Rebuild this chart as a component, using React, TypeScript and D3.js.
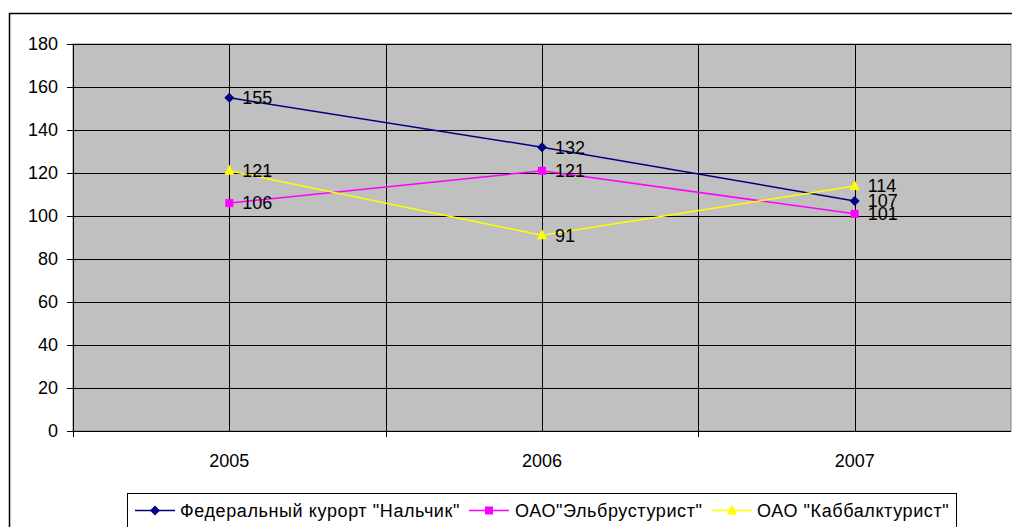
import React from 'react';
import * as d3 from 'd3';

// Chart data
const years = ['2005', '2006', '2007'];
const nalchik = [155, 132, 107];
const elbrus = [106, 121, 101];
const kabbalk = [121, 91, 114];
const yTicks = [0, 20, 40, 60, 80, 100, 120, 140, 160, 180];
const seriesNames = ['Федеральный курорт "Нальчик"', 'ОАО"Эльбрустурист"', 'ОАО "Каббалктурист"'];

const W = 1012;
const H = 527;
const plot = { left: 73, top: 44, right: 1011, bottom: 431 };
const FONT = 'Liberation Sans, Arial, sans-serif';

const series = [
  { name: seriesNames[0], values: nalchik, color: '#000080', marker: 'diamond' },
  { name: seriesNames[1], values: elbrus, color: '#FF00FF', marker: 'square' },
  { name: seriesNames[2], values: kabbalk, color: '#FFFF00', marker: 'triangle' },
];

const Marker: React.FC<{ kind: string; x: number; y: number; color: string }> = ({ kind, x, y, color }) => {
  if (kind === 'diamond') {
    return <path d={`M${x},${y - 5} L${x + 5},${y} L${x},${y + 5} L${x - 5},${y} Z`} fill={color} />;
  }
  if (kind === 'square') {
    return <rect x={x - 4} y={y - 4} width={8} height={8} fill={color} />;
  }
  return <path d={`M${x},${y - 6} L${x + 5},${y + 4} L${x - 5},${y + 4} Z`} fill={color} />;
};

export default function App() {
  const x = d3.scaleBand<string>().domain(years).range([plot.left, plot.right]);
  const cx = (d: string) => (x(d) ?? 0) + x.bandwidth() / 2;
  const y = d3.scaleLinear().domain([0, 180]).range([plot.bottom, plot.top]);

  const line = d3.line<number>()
    .x((_, i) => cx(years[i]))
    .y(v => y(v));

  // legend layout
  const legendItems = [
    { lineX: 135, textX: 180 },
    { lineX: 469, textX: 515 },
    { lineX: 712, textX: 757 },
  ];

  return (
    <div style={{ position: 'absolute', left: 0, top: 0 }}>
      <svg width={W} height={H} style={{ display: 'block' }} fontFamily={FONT}>
        <rect x={0} y={0} width={W} height={H} fill="#fff" />
        {/* outer chart frame */}
        <rect x={9.5} y={13.5} width={1010} height={530} fill="none" stroke="#000" strokeWidth={1.5} />

        {/* plot area */}
        <rect x={plot.left} y={plot.top} width={plot.right - plot.left} height={plot.bottom - plot.top} fill="#C0C0C0" stroke="#808080" strokeWidth={1} />

        {/* horizontal gridlines */}
        {yTicks.filter(t => t > 0).map(t => (
          <line key={t} x1={plot.left} x2={plot.right} y1={Math.round(y(t)) + 0.5} y2={Math.round(y(t)) + 0.5} stroke="#000" strokeWidth={1} />
        ))}

        {/* vertical gridlines at category centers and boundaries */}
        {years.map(yr => (
          <line key={'c' + yr} x1={Math.round(cx(yr)) + 0.5} x2={Math.round(cx(yr)) + 0.5} y1={plot.top} y2={plot.bottom} stroke="#000" strokeWidth={1} />
        ))}
        {years.slice(1).map(yr => (
          <line key={'b' + yr} x1={Math.round(x(yr) ?? 0) + 0.5} x2={Math.round(x(yr) ?? 0) + 0.5} y1={plot.top} y2={plot.bottom} stroke="#000" strokeWidth={1} />
        ))}

        {/* axes */}
        <line x1={plot.left + 0.5} x2={plot.left + 0.5} y1={plot.top} y2={plot.bottom} stroke="#000" />
        <line x1={plot.left} x2={plot.right} y1={plot.bottom + 0.5} y2={plot.bottom + 0.5} stroke="#000" />
        {yTicks.map(t => (
          <g key={'yt' + t}>
            <line x1={plot.left - 6} x2={plot.left} y1={Math.round(y(t)) + 0.5} y2={Math.round(y(t)) + 0.5} stroke="#000" />
            <text x={plot.left - 15} y={y(t)} dy="0.35em" textAnchor="end" fontSize={18} fill="#000">{t}</text>
          </g>
        ))}
        {[plot.left, ...years.slice(1).map(yr => x(yr) ?? 0)].map((bx, i) => (
          <line key={'xt' + i} x1={Math.round(bx) + 0.5} x2={Math.round(bx) + 0.5} y1={plot.bottom} y2={plot.bottom + 6} stroke="#000" />
        ))}
        {years.map(yr => (
          <text key={'xl' + yr} x={cx(yr)} y={467} textAnchor="middle" fontSize={18} fill="#000">{yr}</text>
        ))}

        {/* series */}
        {series.map(s => (
          <g key={s.name}>
            <path d={line(s.values) ?? ''} fill="none" stroke={s.color} strokeWidth={1.5} />
            {s.values.map((v, i) => (
              <Marker key={i} kind={s.marker} x={cx(years[i])} y={y(v)} color={s.color} />
            ))}
            {s.values.map((v, i) => (
              <text key={'l' + i} x={cx(years[i]) + 13} y={y(v)} dy="0.35em" fontSize={18} fill="#000">{v}</text>
            ))}
          </g>
        ))}

        {/* legend */}
        <rect x={127.5} y={493.5} width={829} height={40} fill="#fff" stroke="#000" strokeWidth={1} />
        {series.map((s, i) => (
          <g key={'lg' + i}>
            <line x1={legendItems[i].lineX} x2={legendItems[i].lineX + 40} y1={510.5} y2={510.5} stroke={s.color} strokeWidth={1.5} />
            <Marker kind={s.marker} x={legendItems[i].lineX + 20} y={510.5} color={s.color} />
            <text x={legendItems[i].textX} y={510.5} dy="0.35em" fontSize={18} letterSpacing={0.6} fill="#000">{s.name}</text>
          </g>
        ))}
      </svg>
    </div>
  );
}
